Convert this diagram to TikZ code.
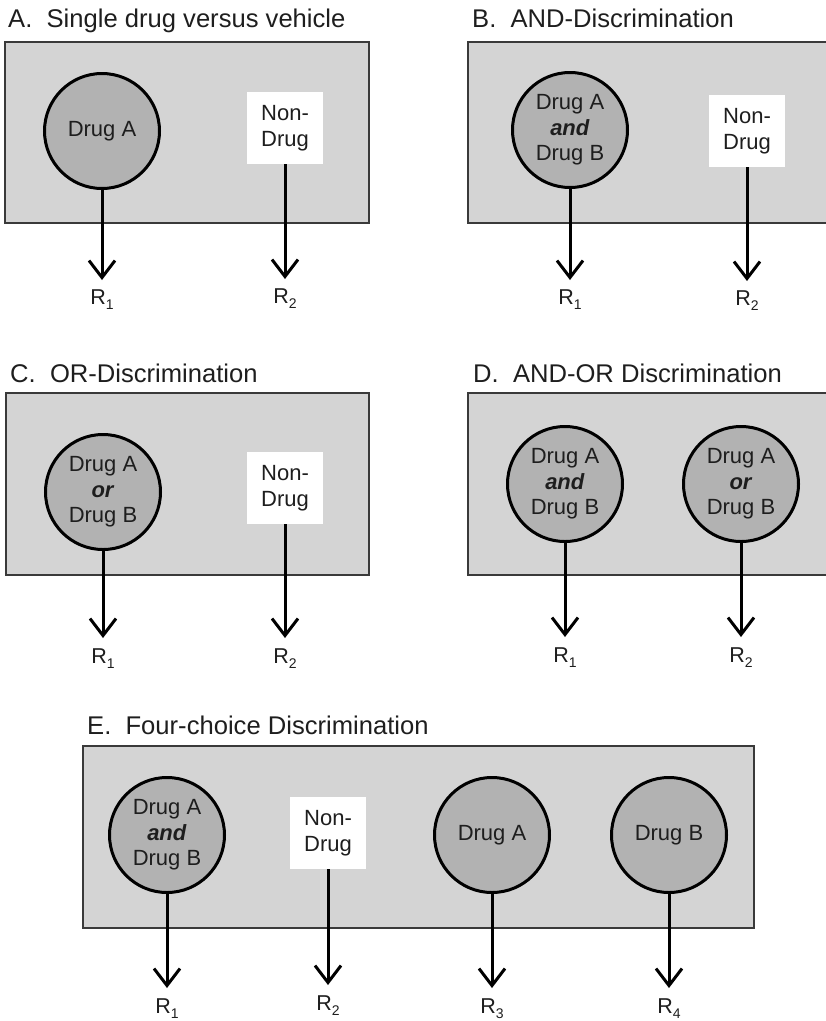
\documentclass[tikz,border=0pt]{standalone}
\usepackage{fontspec}
\setmainfont{Liberation Sans}
\usetikzlibrary{arrows.meta}
\definecolor{panelgray}{HTML}{D4D4D4}
\definecolor{druggray}{HTML}{B2B2B2}
\definecolor{ink}{HTML}{1E1E1E}
\definecolor{rim}{HTML}{3A3A3A}
\newcommand{\Rsub}[1]{R\raisebox{-5pt}{\fontsize{14}{14}\selectfont #1}}
\newcommand{\bi}[1]{\textbf{\textit{#1}}}
\begin{document}
\begin{tikzpicture}[x=1pt,y=-1pt,
  panel/.style={draw=rim,line width=2pt,fill=panelgray},
  drug/.style={circle,draw=black,line width=3pt,fill=druggray,minimum size=115pt,
    inner sep=0pt,align=center,text=ink,font=\fontsize{22}{25.5}\selectfont},
  nondrug/.style={rectangle,fill=white,minimum width=76pt,minimum height=72pt,
    inner sep=0pt,align=center,text=ink,font=\fontsize{22}{25.5}\selectfont},
  resp/.style={anchor=north,inner sep=0pt,text=ink,font=\fontsize{21.5}{24}\selectfont},
  title/.style={anchor=base west,inner sep=0pt,text=ink,font=\fontsize{25.6}{28}\selectfont},
  arr/.style={line width=3pt,-{Straight Barb[length=17pt,width=26pt]},shorten >=10pt}]
\useasboundingbox (0,0) rectangle (826,1021);
\clip (0,0) rectangle (826,1021);

% ---- A: single drug versus vehicle
\node[title] (tA) at (8,27) {A.\ \ Single drug versus vehicle};
\draw[panel] (5,42) rectangle (369,223);
\node[drug] (a1) at (102,131) {Drug A};
\node[nondrug] (a2) at (285,128) {Non-\\Drug};
\node[resp] (ra1) at (102,290) {\Rsub{1}};
\node[resp] (ra2) at (285,289) {\Rsub{2}};
\draw[arr] (a1) -- (ra1);
\draw[arr] (a2) -- (ra2);

% ---- B: AND-discrimination
\node[title] (tB) at (472,27) {B.\ \ AND-Discrimination};
\draw[panel] (468,42) rectangle (832,223);
\node[drug] (b1) at (570,130) {Drug A\\\bi{and}\\Drug B};
\node[nondrug] (b2) at (747,131) {Non-\\Drug};
\node[resp] (rb1) at (570,290) {\Rsub{1}};
\node[resp] (rb2) at (747,291) {\Rsub{2}};
\draw[arr] (b1) -- (rb1);
\draw[arr] (b2) -- (rb2);

% ---- C: OR-discrimination
\node[title] (tC) at (10,382) {C.\ \ OR-Discrimination};
\draw[panel] (6,393) rectangle (369,575);
\node[drug] (c1) at (103,492) {Drug A\\\bi{or}\\Drug B};
\node[nondrug] (c2) at (285,488) {Non-\\Drug};
\node[resp] (rc1) at (103,648) {\Rsub{1}};
\node[resp] (rc2) at (285,648) {\Rsub{2}};
\draw[arr] (c1) -- (rc1);
\draw[arr] (c2) -- (rc2);

% ---- D: AND-OR discrimination
\node[title] (tD) at (473,382) {D.\ \ AND-OR Discrimination};
\draw[panel] (468,393) rectangle (832,575);
\node[drug] (d1) at (565,484) {Drug A\\\bi{and}\\Drug B};
\node[drug] (d2) at (741,484) {Drug A\\\bi{or}\\Drug B};
\node[resp] (rd1) at (565,647) {\Rsub{1}};
\node[resp] (rd2) at (741,647) {\Rsub{2}};
\draw[arr] (d1) -- (rd1);
\draw[arr] (d2) -- (rd2);

% ---- E: four-choice discrimination
\node[title] (tE) at (87,734) {E.\ \ Four-choice Discrimination};
\draw[panel] (83,746) rectangle (754,928);
\node[drug] (e1) at (167,835) {Drug A\\\bi{and}\\Drug B};
\node[nondrug] (e2) at (328,833) {Non-\\Drug};
\node[drug] (e3) at (492,835) {Drug A};
\node[drug] (e4) at (669,835) {Drug B};
\node[resp] (re1) at (167,998) {\Rsub{1}};
\node[resp] (re2) at (328,995) {\Rsub{2}};
\node[resp] (re3) at (492,998) {\Rsub{3}};
\node[resp] (re4) at (669,998) {\Rsub{4}};
\draw[arr] (e1) -- (re1);
\draw[arr] (e2) -- (re2);
\draw[arr] (e3) -- (re3);
\draw[arr] (e4) -- (re4);
\end{tikzpicture}
\end{document}
